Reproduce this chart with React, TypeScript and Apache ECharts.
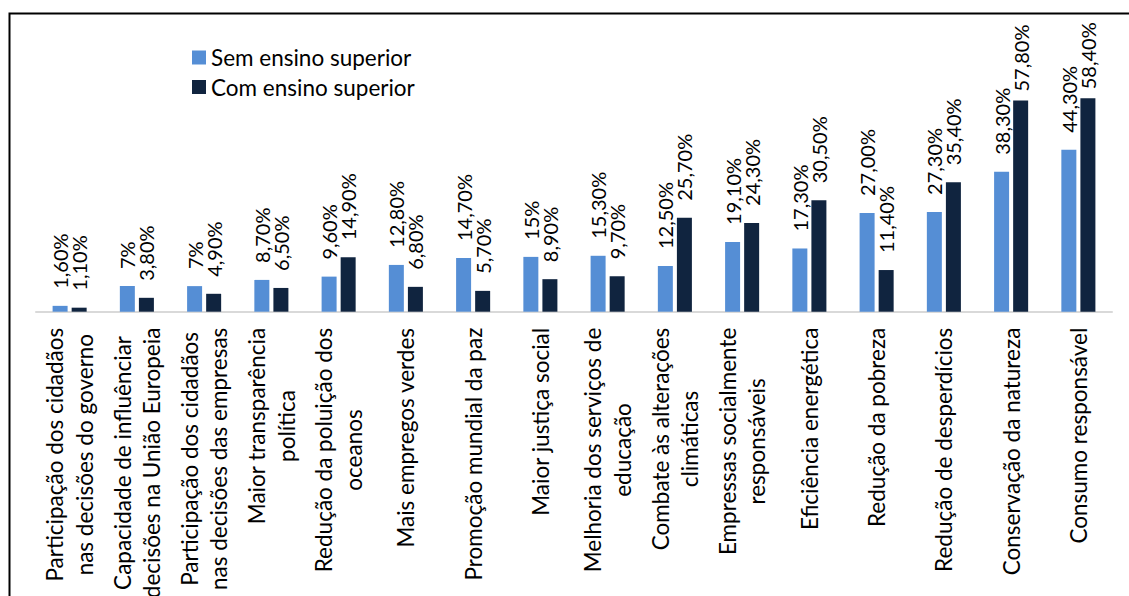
import React, { useEffect, useRef } from "react";
import * as echarts from "echarts";

// Categories (line breaks mark where each axis label wraps)
const categories: string[] = [
  "Participação dos cidadãos\nnas decisões do governo",
  "Capacidade de influênciar\ndecisões na União Europeia",
  "Participação dos cidadãos\nnas decisões das empresas",
  "Maior transparência\npolítica",
  "Redução da poluição dos\noceanos",
  "Mais empregos verdes",
  "Promoção mundial da paz",
  "Maior justiça social",
  "Melhoria dos serviços de\neducação",
  "Combate às alterações\nclimáticas",
  "Empressas socialmente\nresponsáveis",
  "Eficiência energética",
  "Redução da pobreza",
  "Redução de desperdícios",
  "Conservação da natureza",
  "Consumo responsável",
];

const seriesNames = ["Sem ensino superior", "Com ensino superior"];

// Percentages as printed on the bars
const semEnsinoLabels: string[] = [
  "1,60%", "7%", "7%", "8,70%", "9,60%", "12,80%", "14,70%", "15%",
  "15,30%", "12,50%", "19,10%", "17,30%", "27,00%", "27,30%", "38,30%", "44,30%",
];
const comEnsinoLabels: string[] = [
  "1,10%", "3,80%", "4,90%", "6,50%", "14,90%", "6,80%", "5,70%", "8,90%",
  "9,70%", "25,70%", "24,30%", "30,50%", "11,40%", "35,40%", "57,80%", "58,40%",
];

const toNumber = (s: string) => parseFloat(s.replace("%", "").replace(",", "."));
const semEnsino = semEnsinoLabels.map(toNumber);
const comEnsino = comEnsinoLabels.map(toNumber);

const FONT = "Lato";
const BLUE = "#558ED5";
const NAVY = "#10243F";

export default function App() {
  const ref = useRef<HTMLDivElement>(null);

  useEffect(() => {
    if (!ref.current) return;
    const chart = echarts.init(ref.current, undefined, { renderer: "svg" });

    const barLabel = (texts: string[]) => ({
      show: true,
      position: "top" as const,
      rotate: 90,
      align: "left",
      verticalAlign: "middle",
      distance: 17,
      fontSize: 20,
      fontFamily: FONT,
      color: "#000",
      formatter: (p: any) => texts[p.dataIndex],
    });

    // tall bars keep their labels inside the plot area
    const toData = (vals: number[]) =>
      vals.map((v) => (v > 50 ? { value: v, label: { distance: 9 } } : v));

    chart.setOption({
      animation: false,
      backgroundColor: "#fff",
      graphic: [
        {
          type: "rect",
          left: 7,
          top: 11,
          shape: { width: 1300, height: 800 },
          style: { fill: "none", stroke: "#000", lineWidth: 2 },
          silent: true,
        },
      ],
      legend: {
        orient: "vertical",
        left: 192,
        top: 46,
        padding: 0,
        itemWidth: 14,
        itemHeight: 14,
        itemGap: 6.5,
        icon: "rect",
        textStyle: { fontSize: 22.5, fontFamily: FONT, color: "#000" },
        data: seriesNames,
      },
      grid: {
        left: 36,
        right: 17,
        top: 55.9,
        bottom: 284.3,
        containLabel: false,
        outerBoundsMode: "none",
      },
      xAxis: {
        type: "category",
        data: categories,
        axisLine: { lineStyle: { color: "#D9D9D9", width: 2 } },
        axisTick: { show: false },
        axisLabel: {
          interval: 0,
          rotate: 90,
          margin: 16,
          formatter: (v: string) =>
            v
              .split("\n")
              .map((line) => `{c|${line}}`)
              .join("\n"),
          rich: {
            c: {
              align: "center",
              fontSize: 22.5,
              fontFamily: FONT,
              color: "#000",
              lineHeight: 29.5,
            },
          },
        },
      },
      yAxis: {
        type: "value",
        min: 0,
        max: 70,
        show: false,
        splitLine: { show: false },
      },
      series: [
        {
          name: seriesNames[0],
          type: "bar",
          data: toData(semEnsino),
          barWidth: 15,
          barGap: "27%",
          itemStyle: { color: BLUE },
          label: barLabel(semEnsinoLabels),
        },
        {
          name: seriesNames[1],
          type: "bar",
          data: toData(comEnsino),
          barWidth: 15,
          barGap: "27%",
          itemStyle: { color: NAVY },
          label: barLabel(comEnsinoLabels),
        },
      ],
    });

    return () => chart.dispose();
  }, []);

  return (
    <div
      ref={ref}
      style={{ position: "absolute", left: 0, top: 0, width: 1129, height: 596 }}
    />
  );
}
